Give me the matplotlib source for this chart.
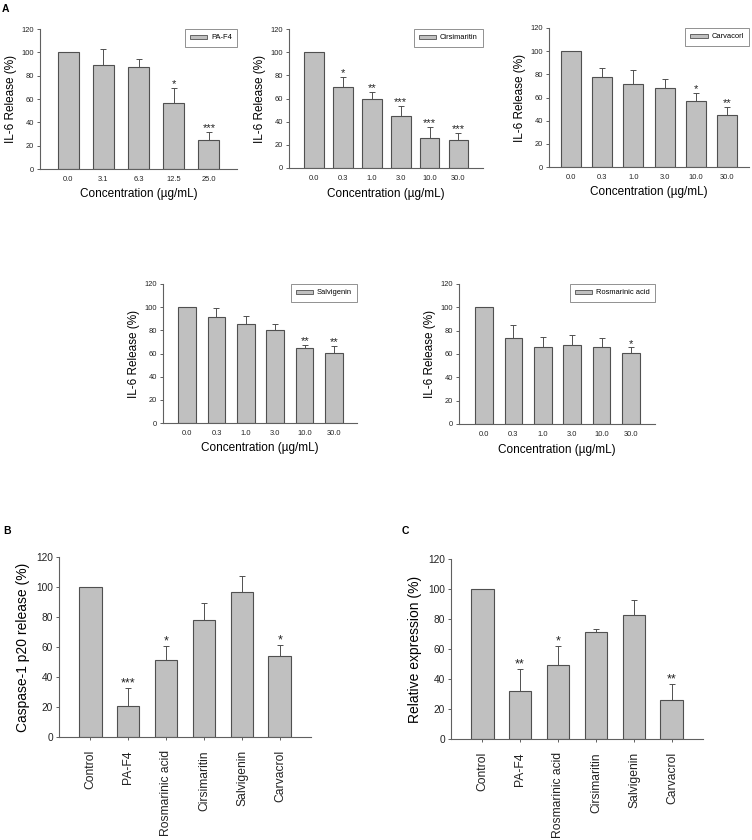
import numpy as np
import matplotlib
matplotlib.use('Agg')
import matplotlib.pyplot as plt

plt.rcParams['font.family'] = ['Liberation Sans', 'DejaVu Sans']

############ data #####################

conc_pa = ['0.0', '3.1', '6.3', '12.5', '25.0']
conc_std = ['0.0', '0.3', '1.0', '3.0', '10.0', '30.0']

pa_mean = [100, 89.0, 87.4, 57.0, 24.6]
pa_err = [0, 14.0, 7.0, 12.4, 7.1]
pa_star = ['', '', '', '*', '***']

cirs_mean = [100, 69.6, 59.9, 45.0, 25.8, 24.4]
cirs_err = [0, 9.2, 5.4, 8.3, 9.4, 5.7]
cirs_star = ['', '*', '**', '***', '***', '***']

carv_mean = [100, 78.1, 71.5, 68.0, 57.4, 44.8]
carv_err = [0, 7.2, 12.0, 7.8, 6.6, 6.9]
carv_star = ['', '', '', '', '*', '**']

salv_mean = [100, 91.1, 85.1, 80.5, 64.5, 60.2]
salv_err = [0, 8.6, 7.7, 4.9, 2.8, 6.0]
salv_star = ['', '', '', '', '**', '**']

rosm_mean = [100, 74.1, 66.4, 67.3, 66.1, 60.7]
rosm_err = [0, 11.1, 8.6, 9.4, 8.0, 4.9]
rosm_star = ['', '', '', '', '', '*']

groups = ['Control', 'PA-F4', 'Rosmarinic acid', 'Cirsimaritin', 'Salvigenin', 'Carvacrol']

casp_mean = [100, 20.7, 51.3, 78.0, 96.7, 54.0]
casp_err = [0, 12.0, 9.4, 11.1, 10.6, 7.1]
casp_star = ['', '***', '*', '', '', '*']

rel_mean = [100, 32.0, 49.3, 71.1, 82.7, 26.0]
rel_err = [0, 14.7, 12.7, 2.2, 10.0, 10.9]
rel_star = ['', '**', '*', '', '', '**']

#################################

BAR = '#c0c0c0'
EDGE = '#505050'
SPINE = '#606060'

W, H = 752, 840
fig = plt.figure(figsize=(W / 100, H / 100), dpi=100)


def px_axes(left, top, right, bottom):
    return fig.add_axes([left / W, 1 - bottom / H, (right - left) / W, (bottom - top) / H])


def bar_panel(ax, labels, mean, err, star, xlim, width, tick_fs, star_fs):
    x = np.arange(len(labels))
    ax.bar(x, mean, width=width, color=BAR, edgecolor=EDGE, linewidth=0.8, zorder=2)
    ax.errorbar(x, mean, yerr=[np.zeros(len(err)), err], fmt='none', ecolor=EDGE,
                elinewidth=0.7, capsize=2.2, capthick=0.7, zorder=3)
    for xi, m, e, s in zip(x, mean, err, star):
        if s:
            ax.text(xi, m + e - 1.0, s, ha='center', va='bottom', fontsize=star_fs, color='#222222')
    ax.set_xlim(xlim)
    ax.set_ylim(0, 120)
    ax.set_yticks(range(0, 121, 20))
    ax.set_xticks(x)
    for sp in ['top', 'right']:
        ax.spines[sp].set_visible(False)
    for sp in ['left', 'bottom']:
        ax.spines[sp].set_color(SPINE)
        ax.spines[sp].set_linewidth(0.8)
    ax.tick_params(axis='both', colors=SPINE, labelcolor='#222222', labelsize=tick_fs,
                   width=0.7, length=2.5, direction='out')


def small_panel(pos, labels, mean, err, star, name, xlim, width):
    ax = px_axes(*pos)
    bar_panel(ax, labels, mean, err, star, xlim, width, 5.4, 8)
    ax.set_xticklabels(labels)
    ax.tick_params(axis='x', length=0, pad=5)
    ax.tick_params(axis='y', pad=2)
    ax.set_ylabel('IL-6 Release (%)', fontsize=8.5, labelpad=3)
    ax.set_xlabel('Concentration (\u00b5g/mL)', fontsize=8.5, labelpad=4)
    # legend drawn with a proxy patch
    h = plt.Rectangle((0, 0), 1, 1, facecolor=BAR, edgecolor=EDGE, linewidth=0.6)
    leg = ax.legend([h], [name], loc='upper right', bbox_to_anchor=(1, 1.0), borderaxespad=0,
                    fontsize=5.4, fancybox=False, handlelength=2.3, handleheight=0.45,
                    handletextpad=0.5, borderpad=0.7, framealpha=1)
    leg.get_frame().set_edgecolor('#808080')
    leg.get_frame().set_linewidth(0.6)
    return ax


small_panel((40, 29, 237, 169), conc_pa, pa_mean, pa_err, pa_star, 'PA-F4', (-0.8, 4.8), 0.6)
small_panel((289, 29, 483, 168), conc_std, cirs_mean, cirs_err, cirs_star, 'Cirsimaritin', (-0.87, 5.85), 0.68)
small_panel((549, 28, 749, 167), conc_std, carv_mean, carv_err, carv_star, 'Carvacorl', (-0.7, 5.7), 0.64)
small_panel((163, 284, 357, 423), conc_std, salv_mean, salv_err, salv_star, 'Salvigenin', (-0.82, 5.78), 0.6)
small_panel((459, 284, 655, 424), conc_std, rosm_mean, rosm_err, rosm_star, 'Rosmarinic acid', (-0.85, 5.82), 0.6)


def big_panel(pos, mean, err, star, ylabel):
    ax = px_axes(*pos)
    bar_panel(ax, groups, mean, err, star, (-0.82, 5.82), 0.6, 7.3, 9)
    ax.set_xticklabels(groups, rotation=90, fontsize=8.7)
    ax.tick_params(axis='x', length=2.5, pad=7)
    ax.tick_params(axis='y', pad=2)
    ax.set_ylabel(ylabel, fontsize=10, labelpad=4)
    return ax


big_panel((59, 557, 311, 737), casp_mean, casp_err, casp_star, 'Caspase-1 p20 release (%)')
big_panel((451, 559, 703, 739), rel_mean, rel_err, rel_star, 'Relative expression (%)')

fig.text(2 / W, 1 - 4 / H, 'A', fontsize=7.5, fontweight='bold', va='top', ha='left')
fig.text(3 / W, 1 - 526 / H, 'B', fontsize=7.5, fontweight='bold', va='top', ha='left')
fig.text(402 / W, 1 - 526 / H, 'C', fontsize=7.5, fontweight='bold', va='top', ha='left')

plt.savefig('out.png', dpi=100)
